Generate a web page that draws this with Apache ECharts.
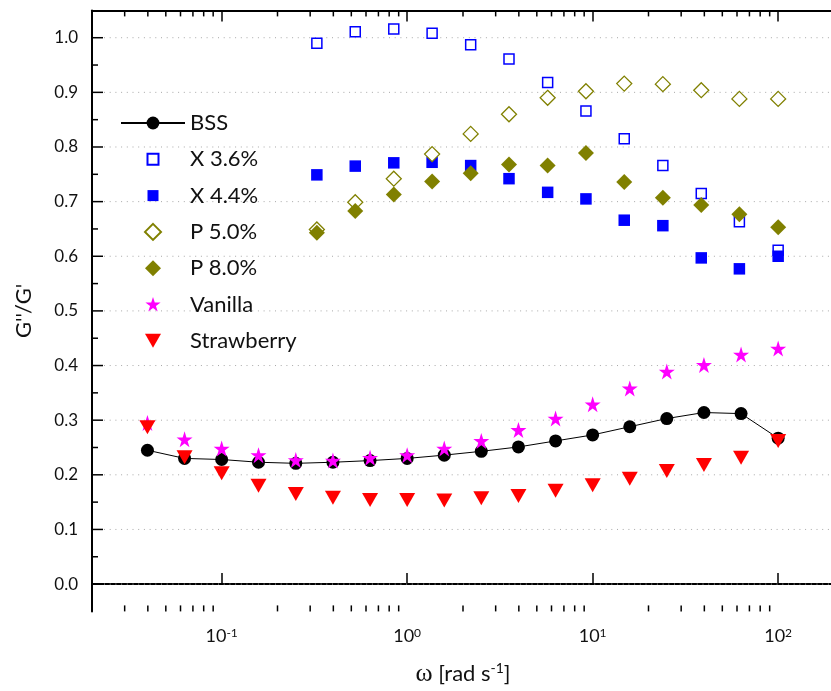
<!DOCTYPE html>
<html>
<head>
<meta charset="utf-8">
<script src="https://cdn.jsdelivr.net/npm/echarts@6/dist/echarts.min.js"></script>
<style>
  html, body { margin: 0; padding: 0; background: #fff; }
  #chart { width: 831px; height: 691px; }
</style>
</head>
<body>
<div id="chart"></div>
<script>
// ---- data -------------------------------------------------------------
// angular frequency (rad/s) of the BSS, Vanilla and Strawberry sweeps
const freqA = [0.0398, 0.0631, 0.1, 0.158, 0.251, 0.398, 0.631, 1, 1.585, 2.51,
               3.98, 6.31, 10, 15.85, 25.1, 39.8, 63.1, 100];
// angular frequency (rad/s) of the X and P sweeps
const freqB = [0.326, 0.525, 0.847, 1.363, 2.20, 3.54, 5.72, 9.20, 14.8, 23.9,
               38.5, 61.8, 100];

const bss        = [0.245, 0.230, 0.228, 0.223, 0.221, 0.223, 0.226, 0.230, 0.236, 0.243,
                    0.251, 0.262, 0.273, 0.288, 0.303, 0.314, 0.312, 0.267];
const vanilla    = [0.295, 0.265, 0.248, 0.236, 0.227, 0.226, 0.231, 0.236, 0.248, 0.262,
                    0.282, 0.303, 0.329, 0.358, 0.389, 0.401, 0.420, 0.431];
const strawberry = [0.287, 0.232, 0.203, 0.180, 0.165, 0.158, 0.154, 0.154, 0.153, 0.157,
                    0.161, 0.171, 0.181, 0.193, 0.207, 0.218, 0.231, 0.262];

const x36 = [0.990, 1.011, 1.016, 1.008, 0.987, 0.961, 0.918, 0.866, 0.815, 0.766, 0.715, 0.663, 0.611];
const x44 = [0.749, 0.765, 0.771, 0.772, 0.766, 0.742, 0.717, 0.705, 0.666, 0.656, 0.597, 0.577, 0.600];
const p50 = [0.649, 0.699, 0.742, 0.787, 0.824, 0.860, 0.890, 0.902, 0.916, 0.915, 0.904, 0.888, 0.888];
const p80 = [0.643, 0.683, 0.713, 0.737, 0.752, 0.768, 0.766, 0.789, 0.736, 0.707, 0.694, 0.677, 0.653];

// axis ranges and tick positions
const X_MIN = 0.02, X_MAX = 200;
const Y_MIN = -0.05, Y_MAX = 1.05;
const yMajorTicks = [0.0, 0.1, 0.2, 0.3, 0.4, 0.5, 0.6, 0.7, 0.8, 0.9, 1.0];
const yMinorTicks = [0.05, 0.15, 0.25, 0.35, 0.45, 0.55, 0.65, 0.75, 0.85, 0.95];
const xMinorMantissas = [2, 3, 4, 5, 6, 7, 8, 9];
const xDecades = [0.01, 0.1, 1, 10];

// ---- helpers ----------------------------------------------------------
const FONT = 'Lato, "Open Sans", sans-serif';
const INK = '#111';
const zip = (xs, ys) => xs.map((x, i) => [x, ys[i]]);

const xMinorTicks = [];
xDecades.forEach(d => xMinorMantissas.forEach(m => {
  const v = +(m * d).toPrecision(3);
  if (v > X_MIN && v < X_MAX) xMinorTicks.push(v);
}));

const STAR = 'path://M50,0 L61.2,34.5 L97.6,34.5 L68.2,55.9 L79.4,90.5 L50,69.1 L20.6,90.5 L31.8,55.9 L2.4,34.5 L38.8,34.5 Z';
// legend glyphs inside a fixed box (the leading moves fix the box size)
const ICON_SQUARE = 'path://M0,0M16,16M2.5,2.5L13.5,2.5L13.5,13.5L2.5,13.5Z';
const ICON_DIAMOND = 'path://M0,0M16,16M8,0L16,8L8,16L0,8Z';
const ICON_STAR = 'path://M0,0M100,100M50,3 L61.2,37.5 L97.6,37.5 L68.2,58.9 L79.4,93.5 L50,72.1 L20.6,93.5 L31.8,58.9 L2.4,37.5 L38.8,37.5 Z';
const ICON_TRIANGLE = 'path://M0,0M16,16M0,1L16,1L8,15Z';

// minor ticks along the bottom and top frame of the log axis
function renderXMinor(params, api) {
  const v = api.value(0);
  const b = api.coord([v, Y_MIN]);
  const t = api.coord([v, Y_MAX]);
  const st = { stroke: '#000', lineWidth: 1.5 };
  return {
    type: 'group',
    children: [
      { type: 'line', shape: { x1: b[0], y1: b[1], x2: b[0], y2: b[1] - 6 }, style: st },
      { type: 'line', shape: { x1: t[0], y1: t[1], x2: t[0], y2: t[1] + 6 }, style: st }
    ]
  };
}

// y ticks (major + minor) and dotted horizontal grid lines
function renderYTicks(params, api) {
  const v = api.value(1);
  const major = api.value(2) === 1;
  const l = api.coord([X_MIN, v]);
  const r = api.coord([X_MAX, v]);
  const children = [
    { type: 'line', shape: { x1: l[0], y1: l[1], x2: l[0] + (major ? 11 : 6), y2: l[1] },
      style: { stroke: '#000', lineWidth: 1.5 } }
  ];
  if (major) {
    children.unshift({
      type: 'line',
      shape: { x1: l[0] + 12, y1: l[1], x2: r[0], y2: r[1] },
      style: { stroke: '#a8a8a8', lineWidth: 1, lineDash: [1, 4.7] }
    });
  }
  return { type: 'group', children };
}

const chart = echarts.init(document.getElementById('chart'), null, { renderer: 'canvas' });

const logAxisBase = {
  type: 'log',
  logBase: 10,
  min: X_MIN,
  max: X_MAX,
  splitLine: { show: false },
  axisLine: { show: true, lineStyle: { color: '#000', width: 2 } },
  axisTick: { show: true, inside: true, length: 11, lineStyle: { color: '#000', width: 1.5 } }
};

chart.setOption({
  animation: false,
  backgroundColor: '#fff',
  grid: {
    left: 92, top: 10.4, width: 742, height: 601,
    containLabel: false,
    outerBoundsMode: 'none'
  },
  legend: {
    orient: 'vertical',
    left: 115,
    top: 107,
    padding: 5,
    itemWidth: 64,
    itemHeight: 16,
    itemGap: 14.3,
    symbolKeepAspect: true,
    textStyle: { fontFamily: FONT, fontSize: 22, color: INK, lineHeight: 22 },
    data: [
      { name: 'BSS' },
      { name: 'X 3.6%', icon: ICON_SQUARE },
      { name: 'X 4.4%', icon: ICON_SQUARE },
      { name: 'P 5.0%', icon: ICON_DIAMOND },
      { name: 'P 8.0%', icon: ICON_DIAMOND },
      { name: 'Vanilla', icon: ICON_STAR },
      { name: 'Strawberry', icon: ICON_TRIANGLE }
    ]
  },
  xAxis: [
    Object.assign({}, logAxisBase, {
      position: 'bottom',
      name: '{w|ω} [rad s{sup|-1}]',
      nameLocation: 'middle',
      nameGap: 50,
      nameTextStyle: {
        fontFamily: FONT, fontSize: 22, color: INK,
        rich: {
          w: { fontFamily: '"Liberation Serif", serif', fontSize: 26, color: INK },
          sup: { fontFamily: FONT, fontSize: 14, color: INK, verticalAlign: 'top' }
        }
      },
      axisLabel: {
        margin: 16,
        color: INK,
        fontFamily: FONT,
        formatter: function (v) {
          const e = Math.round(Math.log10(v));
          if (Math.abs(Math.log10(v) - e) > 1e-6) return '';
          return '{b|10}{e|' + e + '}';
        },
        rich: {
          b: { fontFamily: FONT, fontSize: 18, color: INK },
          e: { fontFamily: FONT, fontSize: 12, color: INK, verticalAlign: 'top' }
        }
      }
    }),
    Object.assign({}, logAxisBase, {
      position: 'top',
      axisLabel: { show: false }
    })
  ],
  yAxis: [{
    type: 'value',
    min: Y_MIN,
    max: Y_MAX,
    interval: 0.05,
    name: "G''/G'",
    nameLocation: 'middle',
    nameGap: 57,
    nameTextStyle: { fontFamily: FONT, fontSize: 22, color: INK },
    axisLine: { show: true, lineStyle: { color: '#000', width: 2 } },
    axisTick: { show: false },
    splitLine: { show: false },
    axisLabel: {
      margin: 14,
      color: INK,
      fontFamily: FONT,
      fontSize: 17,
      formatter: function (v) {
        const k = Math.round(v * 10);
        if (Math.abs(v * 10 - k) > 1e-6) return '';
        return (k / 10).toFixed(1);
      }
    }
  }],
  series: [
    {
      type: 'custom', name: 'xminor', silent: true, xAxisIndex: 0, yAxisIndex: 0,
      renderItem: renderXMinor,
      data: xMinorTicks.map(v => [v, Y_MIN]),
      z: 1
    },
    {
      type: 'custom', name: 'yticks', silent: true, xAxisIndex: 0, yAxisIndex: 0,
      renderItem: renderYTicks,
      data: yMajorTicks.map(v => [X_MIN, v, 1]).concat(yMinorTicks.map(v => [X_MIN, v, 0])),
      z: 1
    },
    {
      type: 'line', name: 'BSS', data: zip(freqA, bss),
      symbol: 'circle', symbolSize: 13, showSymbol: true,
      itemStyle: { color: '#000', opacity: 1 },
      lineStyle: { color: '#000', width: 1 },
      z: 3
    },
    {
      type: 'scatter', name: 'X 3.6%', data: zip(freqB, x36),
      symbol: 'rect', symbolSize: 10,
      itemStyle: { color: '#fff', borderColor: '#0000ff', borderWidth: 1.5, opacity: 1 },
      z: 3
    },
    {
      type: 'scatter', name: 'X 4.4%', data: zip(freqB, x44),
      symbol: 'rect', symbolSize: 11.5,
      itemStyle: { color: '#0000ff', opacity: 1 },
      z: 3
    },
    {
      type: 'scatter', name: 'P 5.0%', data: zip(freqB, p50),
      symbol: 'diamond', symbolSize: 15,
      itemStyle: { color: '#fff', borderColor: '#808000', borderWidth: 1.3, opacity: 1 },
      z: 3
    },
    {
      type: 'scatter', name: 'P 8.0%', data: zip(freqB, p80),
      symbol: 'diamond', symbolSize: 16,
      itemStyle: { color: '#808000', opacity: 1 },
      z: 3
    },
    {
      type: 'scatter', name: 'Vanilla', data: zip(freqA, vanilla),
      symbol: STAR, symbolSize: 16,
      itemStyle: { color: '#ff00ff', opacity: 1 },
      z: 3
    },
    {
      type: 'scatter', name: 'Strawberry', data: zip(freqA, strawberry),
      symbol: 'triangle', symbolRotate: 180, symbolSize: [16, 14],
      itemStyle: { color: '#ff0000', opacity: 1 },
      z: 3
    }
  ]
});
</script>
</body>
</html>
